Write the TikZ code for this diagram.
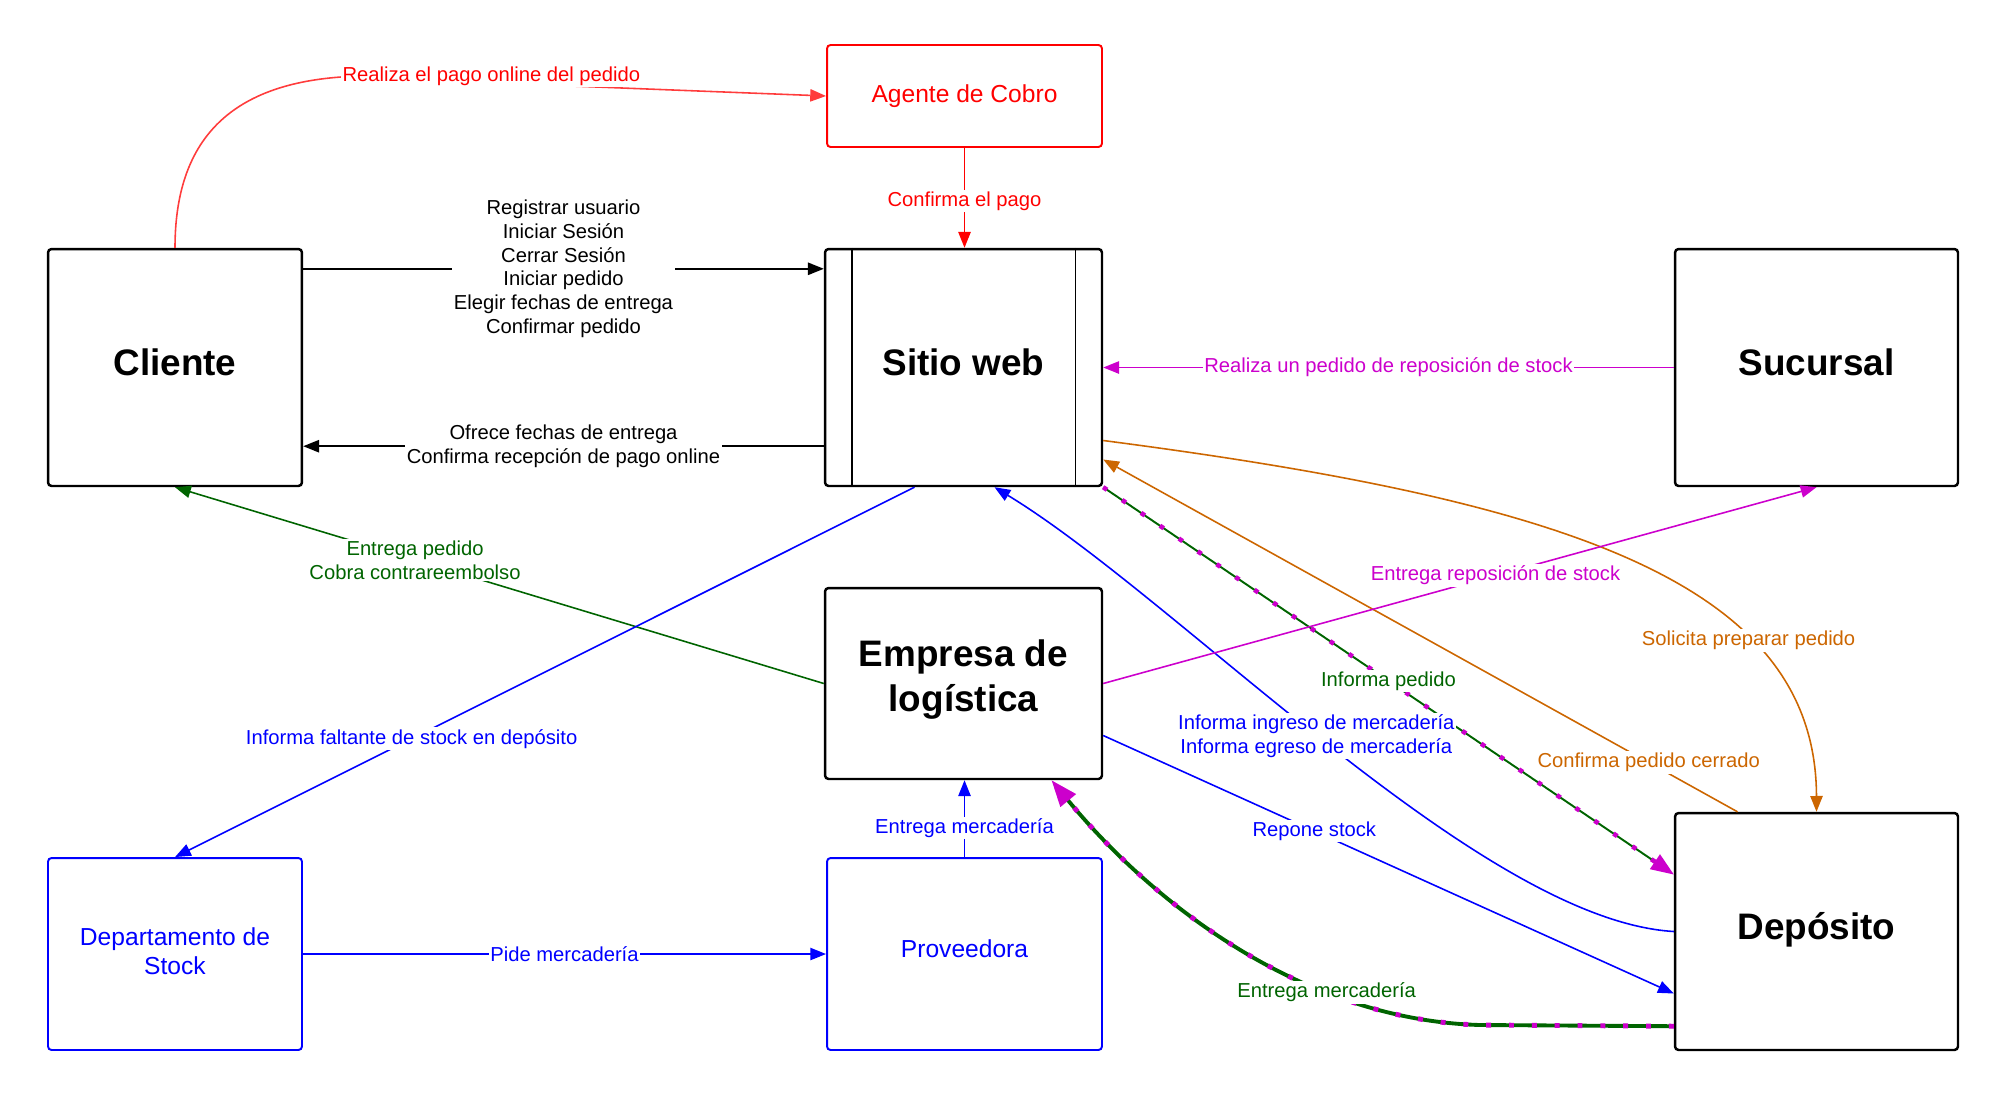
\documentclass[tikz,border=0pt]{standalone}
\usepackage{fontspec}
\setmainfont{Liberation Sans}
\usetikzlibrary{arrows.meta, calc}
\definecolor{rojo}{RGB}{255,0,0}
\definecolor{rojoclaro}{RGB}{255,60,60}
\definecolor{azul}{RGB}{0,0,255}
\definecolor{verde}{RGB}{0,100,0}
\definecolor{mag}{RGB}{204,0,204}
\definecolor{naranja}{RGB}{204,102,0}
\newcommand{\fuenteetq}{\fontsize{11.5}{13.6}\selectfont}
\newcommand{\fuentecaja}{\fontsize{14}{16.5}\selectfont}
\newcommand{\fuentetit}{\fontsize{21}{25.5}\selectfont\bfseries}
\newcommand{\baja}[1]{\rule[-#1]{0pt}{0pt}}
\tikzset{
  ent/.style     = {draw, rounded corners=2pt, line width=1.4pt, inner sep=0pt,
                    align=center, font=\fuentetit},
  entcolor/.style= {draw=#1, text=#1, rounded corners=2pt, line width=1.1pt,
                    inner sep=0pt, align=center, font=\fuentecaja},
  flecha/.style  = {-{Triangle[length=9pt,width=7pt]}, line width=0.9pt},
  etq/.style     = {fill=white, inner sep=1pt, align=center, font=\fuenteetq},
  mixfina/.style = {draw=verde, line width=1.1pt,
                    -{Triangle[length=13pt,width=10pt,color=mag,fill=mag]},
                    postaction={draw=mag, -, shorten >=12pt, line width=2.6pt,
                                dash pattern=on 2.6pt off 10.4pt}},
  mixgruesa/.style = {draw=verde, line width=2.2pt,
                    -{Triangle[length=15pt,width=11pt,color=mag,fill=mag]},
                    postaction={draw=mag, -, shorten >=14pt, line width=2.8pt,
                                dash pattern=on 2.8pt off 10.2pt}},
}

\begin{document}
\begin{tikzpicture}[x=0.02cm, y=-0.02cm]
\useasboundingbox (0,0) rectangle (2000,1096);

% entidades
\node[ent, minimum width=5.08cm, minimum height=4.74cm] (cliente) at (175,367.5) {Cliente\baja{5.8pt}};
\node[entcolor=rojo, minimum width=5.5cm, minimum height=2.04cm] (agente) at (964.5,96) {Agente de Cobro};
\node[ent, minimum width=5.54cm, minimum height=4.74cm] (sitio) at (963.5,367.5) {Sitio web\baja{5.8pt}};
\node[ent, minimum width=5.66cm, minimum height=4.74cm] (sucursal) at (1816.5,367.5) {Sucursal\baja{5.8pt}};
\node[ent, minimum width=5.54cm, minimum height=3.82cm] (empresa) at (963.5,683.5) {Empresa de\\log\'istica\baja{9pt}};
\node[entcolor=azul, minimum width=5.08cm, minimum height=3.84cm] (depto) at (175,954) {Departamento de\\Stock\baja{3pt}};
\node[entcolor=azul, minimum width=5.5cm, minimum height=3.84cm] (proveedora) at (964.5,954) {Proveedora\baja{6pt}};
\node[ent, minimum width=5.66cm, minimum height=4.74cm] (deposito) at (1816.5,931.5) {Dep\'osito\baja{6pt}};

\draw[line width=0.8pt] ($(sitio.north west)+(28,0)$) -- ($(sitio.south west)+(28,0)$);
\draw[line width=0.8pt] ($(sitio.north east)+(-28,0)$) -- ($(sitio.south east)+(-28,0)$);

% flujos
\draw[flecha, rojoclaro] (cliente.north) .. controls (175,140) and (230,85) .. (341,77)
  -- node[etq, text=rojo, pos=0.31, yshift=4pt] {Realiza el pago online del pedido} (agente.west);
\draw[flecha, rojo] (agente.south) -- node[etq, text=rojo, pos=0.53] {Confirma el pago} (agente.south |- sitio.north);

\draw[flecha] ($(cliente.north east)+(0,21)$) -- node[etq] {Registrar usuario\\Iniciar Sesi\'on\\Cerrar Sesi\'on\\Iniciar pedido\\Elegir fechas de entrega\\Confirmar pedido} ($(sitio.north west)+(0,21)$);
\draw[flecha] ($(sitio.south west)+(0,-41)$) -- node[etq] {Ofrece fechas de entrega\\Confirma recepci\'on de pago online} ($(cliente.south east)+(0,-41)$);

\draw[flecha, mag] (sucursal.west) -- node[etq, text=mag] {Realiza un pedido de reposici\'on de stock} (sitio.east);
\draw[flecha, verde] (empresa.west) -- node[etq, text=verde, pos=0.63] {Entrega pedido\\Cobra contrareembolso} (cliente.south);
\draw[flecha, azul] ($(sitio.south)+(-49,0)$) -- node[etq, text=azul, pos=0.68] {Informa faltante de stock en dep\'osito} (depto.north);
\draw[flecha, azul] (depto.east) -- node[etq, text=azul] {Pide mercader\'ia} (proveedora.west);
\draw[flecha, azul] (proveedora.north) -- node[etq, text=azul, pos=0.38] {Entrega mercader\'ia} (proveedora.north |- empresa.south);

\draw[flecha, naranja] ($(sitio.east)+(0,73)$) .. controls (1560,500) and (1816,580)
  .. node[etq, text=naranja, pos=0.7] {Solicita preparar pedido} (deposito.north);
\draw[flecha, naranja] ($(deposito.north)+(-79,0)$) -- node[etq, text=naranja, pos=0.14] {Confirma pedido cerrado} ($(sitio.east)+(0,92)$);

\draw[mixfina] (sitio.south east) -- node[etq, text=verde] {Informa pedido} ($(deposito.west)+(0,-57)$);
\draw[mixgruesa] ($(deposito.south west)+(0,-25)$) -- (1480,1025) .. controls (1300,1020) and (1150,900)
  .. node[etq, text=verde, pos=0.3] {Entrega mercader\'ia} ($(empresa.south)+(88,0)$);

\draw[flecha, azul] (deposito.west) .. controls (1480,920) and (1180,600)
  .. node[etq, text=azul, pos=0.52] {Informa ingreso de mercader\'ia\\Informa egreso de mercader\'ia} ($(sitio.south)+(31,0)$);
\draw[flecha, azul] ($(empresa.east)+(0,52)$) -- node[etq, text=azul, pos=0.37] {Repone stock} ($(deposito.west)+(0,62)$);
\draw[flecha, mag] (empresa.east) -- node[etq, text=mag, pos=0.55] {Entrega reposici\'on de stock} (sucursal.south);

\end{tikzpicture}
\end{document}
